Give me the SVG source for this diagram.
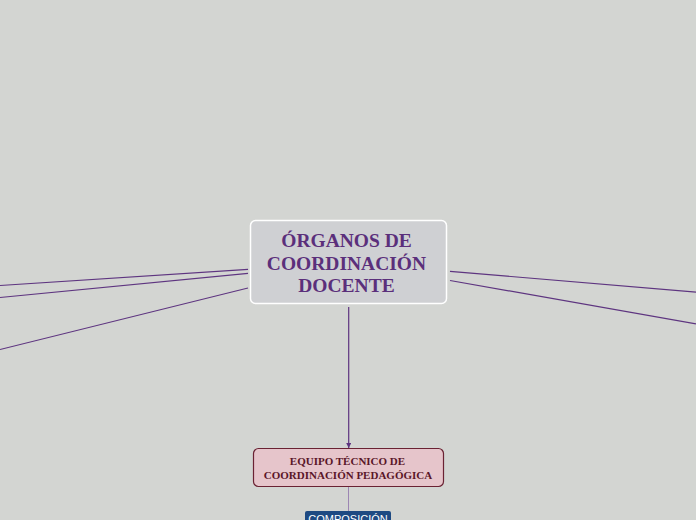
<svg xmlns="http://www.w3.org/2000/svg" width="696" height="520" viewBox="0 0 696 520">
<defs>
<style>
.edge{stroke:#5e3580;stroke-width:1.2;fill:none}
.main{font-family:"Liberation Serif",serif;font-weight:bold;font-size:19.5px;fill:#5b2f7b;text-anchor:middle}
.sub{font-family:"Liberation Serif",serif;font-weight:bold;font-size:11px;fill:#5a1628;text-anchor:middle}
.comp{font-family:"Liberation Sans",sans-serif;font-size:11px;fill:#ffffff;text-anchor:middle}
</style>
<marker id="arr" markerWidth="6" markerHeight="5" refX="5" refY="2.5" orient="auto" markerUnits="userSpaceOnUse">
<path d="M0,0 L5,2.5 L0,5 Z" fill="#5e3580"/>
</marker>
</defs>
<rect width="696" height="520" fill="#d3d5d2"/>
<g id="connectors">
<line class="edge" x1="248" y1="269.3" x2="0" y2="285.5"/>
<line class="edge" x1="248" y1="273.3" x2="0" y2="297.5"/>
<line class="edge" x1="248" y1="288" x2="0" y2="349.5"/>
<line class="edge" x1="450" y1="271.3" x2="696" y2="292.2"/>
<line class="edge" x1="450" y1="280.5" x2="696" y2="323.8"/>
<line class="edge" x1="348.7" y1="307" x2="348.7" y2="448" marker-end="url(#arr)"/>
<line x1="348.5" y1="487" x2="348.5" y2="511" stroke="#9c86b3" stroke-width="1"/>
</g>
<g id="central">
<rect x="250.5" y="220.5" width="196" height="83" rx="5" fill="#cfd0d3" stroke="#ffffff" stroke-width="1.5"/>
<text class="main" x="346.5" y="247">ÓRGANOS DE</text>
<text class="main" x="346.5" y="269.5">COORDINACIÓN</text>
<text class="main" x="346.5" y="292">DOCENTE</text>
</g>
<g id="equipo">
<rect x="253.5" y="448.5" width="190" height="38" rx="5" fill="#e6c5cb" stroke="#6a2233" stroke-width="1.2"/>
<text class="sub" x="347.5" y="465">EQUIPO TÉCNICO DE</text>
<text class="sub" x="348" y="479">COORDINACIÓN PEDAGÓGICA</text>
</g>
<g id="composicion">
<rect x="305" y="511" width="86" height="16" rx="2" fill="#1e4a82"/>
<text class="comp" x="348" y="523">COMPOSICIÓN</text>
</g>
</svg>
